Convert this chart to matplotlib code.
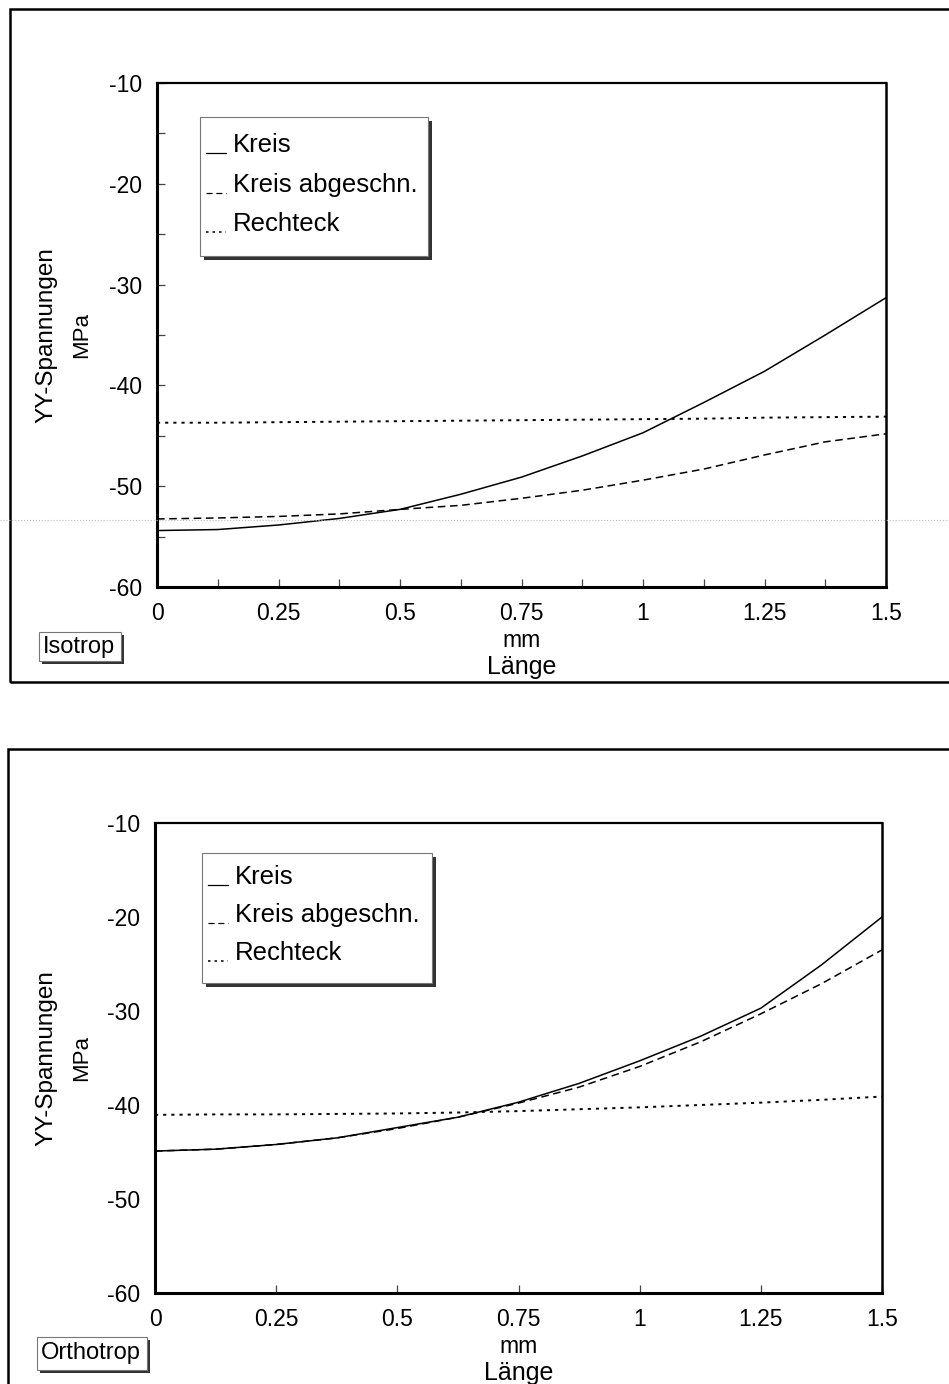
import matplotlib
matplotlib.use("Agg")
import matplotlib.pyplot as plt
from matplotlib.patches import Rectangle
from matplotlib.lines import Line2D

plt.rcParams['font.family'] = ['Liberation Sans', 'DejaVu Sans']
plt.rcParams['axes.unicode_minus'] = False

# data (mm / MPa)
laenge = [0, 0.125, 0.25, 0.375, 0.5, 0.625, 0.75, 0.875, 1.0, 1.125, 1.25, 1.375, 1.5]

iso_kreis = [-54.4, -54.3, -53.85, -53.2, -52.3, -50.8, -49.1, -47.0, -44.7, -41.7, -38.6, -35.0, -31.3]
iso_abgeschn = [-53.25, -53.15, -53.0, -52.75, -52.3, -51.9, -51.2, -50.4, -49.4, -48.3, -46.9, -45.6, -44.8]
iso_rechteck = [-43.7, -43.7, -43.65, -43.6, -43.55, -43.5, -43.45, -43.4, -43.35, -43.3, -43.2, -43.15, -43.1]

ortho_kreis = [-44.9, -44.7, -44.2, -43.5, -42.4, -41.3, -39.7, -37.7, -35.3, -32.7, -29.7, -25.1, -20.0]
ortho_abgeschn = [-44.9, -44.7, -44.2, -43.5, -42.5, -41.3, -39.8, -38.1, -35.9, -33.3, -30.3, -27.1, -23.5]
ortho_rechteck = [-41.05, -41.0, -41.0, -40.95, -40.9, -40.8, -40.65, -40.45, -40.25, -40.0, -39.75, -39.45, -39.1]

serien = ['Kreis', 'Kreis abgeschn.', 'Rechteck']
y_ticks = [-60, -50, -40, -30, -20, -10]
x_ticks = [0, 0.25, 0.5, 0.75, 1.0, 1.25, 1.5]
x_tick_labels = ['0', '0.25', '0.5', '0.75', '1', '1.25', '1.5']

W, H = 949, 1384
fig = plt.figure(figsize=(W / 100, H / 100), dpi=100)

def fx(x):
    return x / W

def fy(y):
    return 1 - y / H

line_styles = ['-', (0, (5, 3)), (0, (1.6, 2.6))]
line_widths = [1.1, 1.1, 1.4]


def panel(axes_px, frame_px, kreis, abgeschn, rechteck, tag, tag_px, leg_px, leg_rows, minor):
    x0, y0, x1, y1 = axes_px
    # outer frame of the page panel
    fx0, fy0, fx1, fy1 = frame_px
    fig.add_artist(Rectangle((fx(fx0), fy(fy1)), fx(fx1) - fx(fx0), fy(fy0) - fy(fy1),
                             transform=fig.transFigure, fill=False, ec='black', lw=1.8))

    ax = fig.add_axes([fx(x0), fy(y1), fx(x1) - fx(x0), fy(y0) - fy(y1)])
    for vals, ls, lw in zip([kreis, abgeschn, rechteck], line_styles, line_widths):
        ax.plot(laenge, vals, color='black', ls=ls, lw=lw)
    ax.set_xlim(0, 1.5)
    ax.set_ylim(-60, -10)
    ax.set_xticks(x_ticks)
    ax.set_xticklabels(x_tick_labels)
    ax.set_yticks(y_ticks)
    ax.tick_params(direction='in', length=6, width=0.9, color='#444444',
                   labelsize=16.5, pad=11)
    if minor:
        ax.set_xticks([0.125, 0.375, 0.625, 0.875, 1.125, 1.375], minor=True)
        ax.set_yticks([-55, -45, -35, -25, -15], minor=True)
        ax.tick_params(which='minor', direction='in', length=6, width=0.9, color='#444444')
    else:
        ax.tick_params(axis='y', length=0)
    ax.spines['left'].set_linewidth(2.2)
    ax.spines['bottom'].set_linewidth(2.2)
    ax.spines['top'].set_linewidth(1.6)
    ax.spines['right'].set_linewidth(1.8)

    yc = (y0 + y1) / 2
    fig.text(fx(46), fy(yc), 'YY-Spannungen', rotation=90, ha='center', va='center', fontsize=17.5)
    fig.text(fx(82), fy(yc), 'MPa', rotation=90, ha='center', va='center', fontsize=16)
    xm = x0 + (x1 - x0) * 0.5
    fig.text(fx(xm), fy(y1 + 60), 'mm', ha='center', va='baseline', fontsize=16.5)
    fig.text(fx(xm), fy(y1 + 87), 'Länge', ha='center', va='baseline', fontsize=18)

    # legend box with drop shadow
    lx0, ly0, lx1, ly1 = leg_px
    fig.add_artist(Rectangle((fx(lx0 + 4), fy(ly1 + 4)), fx(lx1 - lx0), fy(ly0) - fy(ly1),
                             transform=fig.transFigure, fc='#333333', ec='none'))
    fig.add_artist(Rectangle((fx(lx0), fy(ly1)), fx(lx1 - lx0), fy(ly0) - fy(ly1),
                             transform=fig.transFigure, fc='white', ec='#777777', lw=0.8))
    for name, ry, ls, lw in zip(serien, leg_rows, line_styles, line_widths):
        fig.add_artist(Line2D([fx(lx0 + 6), fx(lx0 + 26)], [fy(ry + 8)] * 2,
                              transform=fig.transFigure, color='black', ls=ls, lw=lw * 0.8))
        fig.text(fx(lx0 + 33), fy(ry), name, ha='left', va='center', fontsize=18.5)

    # tag box
    tx0, ty0, tx1, ty1 = tag_px
    fig.add_artist(Rectangle((fx(tx0 + 3), fy(ty1 + 3)), fx(tx1 - tx0), fy(ty0) - fy(ty1),
                             transform=fig.transFigure, fc='#333333', ec='none'))
    fig.add_artist(Rectangle((fx(tx0), fy(ty1)), fx(tx1 - tx0), fy(ty0) - fy(ty1),
                             transform=fig.transFigure, fc='white', ec='#777777', lw=0.8))
    fig.text(fx(tx0 + 4), fy((ty0 + ty1) / 2), tag, ha='left', va='center', fontsize=17)
    return ax


panel((157, 83, 886, 587), (10, 9, 965, 682), iso_kreis, iso_abgeschn, iso_rechteck,
      'Isotrop', (39, 632, 121, 661), (200, 117, 428, 256), [145, 185, 224], True)
panel((155, 823, 882, 1293), (8, 749, 965, 1400), ortho_kreis, ortho_abgeschn, ortho_rechteck,
      'Orthotrop', (37, 1337, 147, 1370), (202, 853, 432, 983), [877, 915, 953], False)

# faint scan line across the upper panel
fig.add_artist(Line2D([0, 1], [fy(520)] * 2, transform=fig.transFigure,
                      color='#c0c0c0', ls=':', lw=0.8))

plt.savefig('out.png', dpi=100)
plt.close()
